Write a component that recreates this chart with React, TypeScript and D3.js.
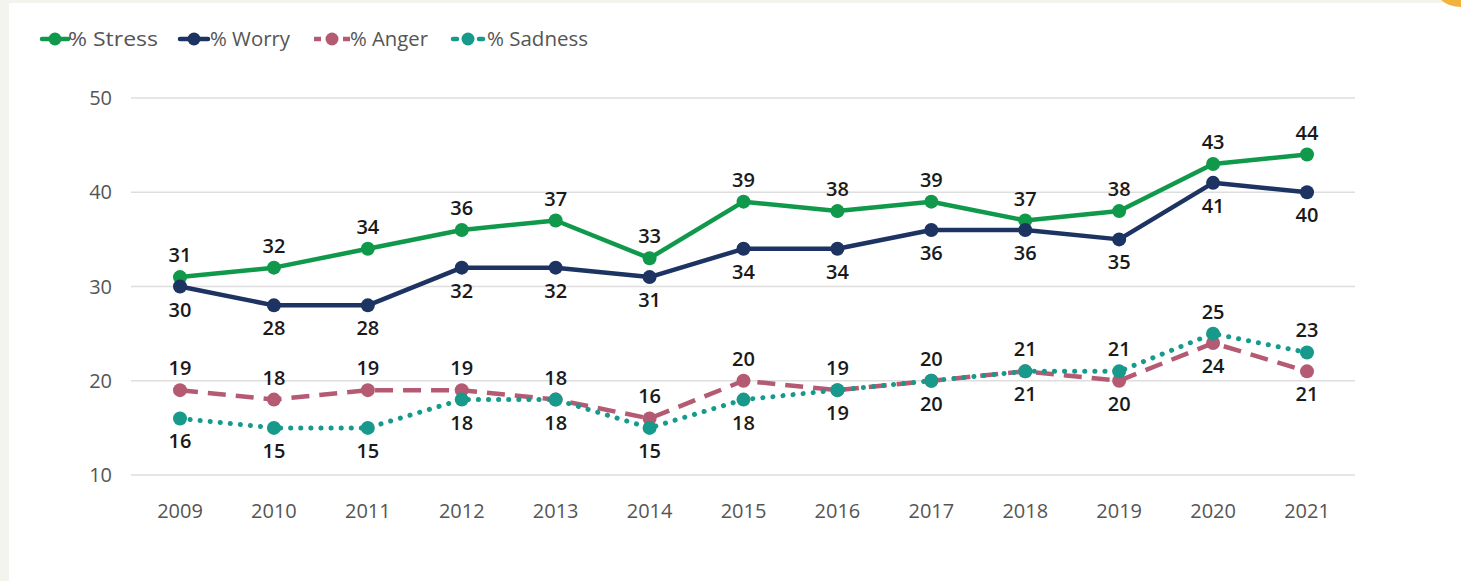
import React from "react";
import * as d3 from "d3";

const years = ["2009","2010","2011","2012","2013","2014","2015","2016","2017","2018","2019","2020","2021"];
const stress = [31,32,34,36,37,33,39,38,39,37,38,43,44];
const worry = [30,28,28,32,32,31,34,34,36,36,35,41,40];
const anger = [19,18,19,19,18,16,20,19,20,21,20,24,21];
const sadness = [16,15,15,18,18,15,18,19,20,21,21,25,23];
const yTicks = [10,20,30,40,50];
// label placement: 1 = above point
const stressAbove = [1,1,1,1,1,1,1,1,1,1,1,1,1];
const worryAbove = [0,0,0,0,0,0,0,0,0,0,0,0,0];
const angerAbove = [1,1,1,1,1,1,1,1,1,1,0,0,0];
const sadnessAbove = [0,0,0,0,0,0,0,0,0,0,1,1,1];

const seriesList = [
  { name: "% Stress", values: stress, above: stressAbove, color: "#10994b", kind: "solid" },
  { name: "% Worry", values: worry, above: worryAbove, color: "#1d3362", kind: "solid" },
  { name: "% Anger", values: anger, above: angerAbove, color: "#b45b73", kind: "dash" },
  { name: "% Sadness", values: sadness, above: sadnessAbove, color: "#179a8b", kind: "dot" },
];

const W = 1461, H = 581;
const FONT = "'Open Sans', 'Noto Sans', sans-serif";

export default function App() {
  const x = d3.scalePoint<string>().domain(years).range([180, 1307]);
  const y = d3.scaleLinear().domain([10, 50]).range([475, 98]);
  const line = d3.line<number>().x((_, i) => x(years[i]) as number).y(d => y(d));

  const legendCx = [55, 194, 332, 468];
  const legendHalf = [13, 14, 18, 17];
  const legendTextX = [68, 210, 350, 487];
  const legendTextW = [90, 80, 78, 101];

  return (
    <svg width={W} height={H} style={{ position: "absolute", left: 0, top: 0, display: "block" }}>
      <rect x={0} y={0} width={W} height={H} fill="#f4f4ef" />
      <rect x={9} y={3} width={W - 9} height={H - 3} fill="#ffffff" />
      <path d={`M${W - 20},0 L${W},0 L${W},7 Q${W - 12},7 ${W - 20},0 Z`} fill="#f3b23c" />
      {/* legend */}
      {seriesList.map((s, i) => (
        <g key={s.name}>
          {s.kind === "solid" && (
            <line x1={legendCx[i] - legendHalf[i]} x2={legendCx[i] + legendHalf[i]} y1={39} y2={39}
              stroke={s.color} strokeWidth={4.5} strokeLinecap="round" />
          )}
          {s.kind === "dash" && (
            <g>
              <line x1={legendCx[i] - 18} x2={legendCx[i] - 11} y1={39} y2={39} stroke={s.color} strokeWidth={4.5} />
              <line x1={legendCx[i] + 11} x2={legendCx[i] + 18} y1={39} y2={39} stroke={s.color} strokeWidth={4.5} />
            </g>
          )}
          {s.kind === "dot" && (
            <g>
              <line x1={legendCx[i] - 15} x2={legendCx[i] - 11} y1={39} y2={39} stroke={s.color} strokeWidth={4.5} strokeLinecap="round" />
              <line x1={legendCx[i] + 11} x2={legendCx[i] + 15} y1={39} y2={39} stroke={s.color} strokeWidth={4.5} strokeLinecap="round" />
            </g>
          )}
          <circle cx={legendCx[i]} cy={39} r={6.5} fill={s.color} />
          <text x={legendTextX[i]} y={39} dy="0.35em" fontFamily={FONT} fontSize={20} fill="#555"
            textLength={legendTextW[i]} lengthAdjust="spacingAndGlyphs">{s.name}</text>
        </g>
      ))}
      {/* grid */}
      {yTicks.map(t => (
        <g key={t}>
          <line x1={131} x2={1355} y1={y(t)} y2={y(t)} stroke="#dedede" strokeWidth={1.3} />
          <text x={112} y={y(t)} dy="0.35em" textAnchor="end" fontFamily={FONT} fontSize={20} fill="#555">{t}</text>
        </g>
      ))}
      {years.map(yr => (
        <text key={yr} x={x(yr)} y={511} dy="0.35em" textAnchor="middle" fontFamily={FONT} fontSize={20} fill="#555">{yr}</text>
      ))}
      {/* lines */}
      {seriesList.map(s => (
        <path key={s.name} d={line(s.values) as string} fill="none" stroke={s.color}
          strokeWidth={s.kind === "dot" ? 5 : 4.5}
          strokeDasharray={s.kind === "dash" ? "18 10" : s.kind === "dot" ? "0.1 10" : undefined}
          strokeLinecap={s.kind === "dash" ? "butt" : "round"} strokeLinejoin="round" />
      ))}
      {seriesList.map(s => (
        <g key={s.name + "pts"}>
          {s.values.map((v, i) => (
            <circle key={i} cx={x(years[i])} cy={y(v)} r={7} fill={s.color} />
          ))}
        </g>
      ))}
      {seriesList.map(s => (
        <g key={s.name + "lbl"}>
          {s.values.map((v, i) => (
            <text key={i} x={x(years[i])} y={y(v) + (s.above[i] ? -22 : 23)} dy="0.35em" textAnchor="middle"
              fontFamily={FONT} fontSize={20} fontWeight={600} fill="#1a1a1a">{v}</text>
          ))}
        </g>
      ))}
    </svg>
  );
}
